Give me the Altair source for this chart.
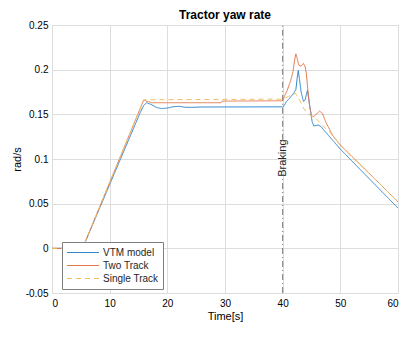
import altair as alt
import pandas as pd

series_names = ["VTM model", "Two Track", "Single Track"]
series_colors = ["#2F86CC", "#E5784A", "#F0C060"]

vtm_t = [0, 5.3, 15.3, 15.9, 16.4, 17.2, 18.2, 19.0, 20.0, 21.0, 22.0, 23.0, 24.0, 26.0, 40.0,
         40.3, 40.6, 41.2, 41.9, 42.3, 42.5, 42.7, 42.9, 43.2, 43.6, 43.9, 44.1, 44.3, 44.5,
         44.8, 45.1, 45.4, 45.8, 46.2, 46.7, 47.0, 48.0, 50.0, 55.0, 60.0]
vtm_v = [0, 0, 0.152, 0.160, 0.163, 0.161, 0.1575, 0.1565, 0.157, 0.1585, 0.159, 0.158, 0.1578, 0.1582, 0.1584,
         0.160, 0.164, 0.168, 0.1736, 0.178, 0.190, 0.199, 0.190, 0.175, 0.1645, 0.166, 0.172, 0.177, 0.168,
         0.155, 0.142, 0.137, 0.1375, 0.138, 0.136, 0.1335, 0.126, 0.111, 0.078, 0.045]

two_t = [0, 5.3, 15.9, 16.5, 17.3, 29.3, 29.5, 40.0, 40.3, 40.8, 41.4, 41.8, 42.1, 42.3, 42.5, 42.8,
         43.2, 43.6, 43.9, 44.1, 44.4, 44.7, 45.0, 45.3, 45.8, 46.4, 46.9, 47.5, 48.7, 50.0, 55.0, 60.0]
two_v = [0, 0, 0.166, 0.1645, 0.163, 0.163, 0.1648, 0.1652, 0.170, 0.177, 0.188, 0.198, 0.212, 0.2177, 0.213, 0.205,
         0.204, 0.207, 0.203, 0.196, 0.175, 0.158, 0.149, 0.147, 0.150, 0.1536, 0.151, 0.141, 0.126, 0.1156, 0.084, 0.052]

single_t = [0, 5.3, 15.9, 40.0, 41.0, 42.2, 43.0, 43.6, 44.5, 45.9, 47.0, 48.2, 50.0, 55.0, 60.0]
single_v = [0, 0, 0.1663, 0.167, 0.170, 0.1736, 0.165, 0.157, 0.150, 0.1446, 0.137, 0.130, 0.1156, 0.084, 0.052]

x_ticks = [0, 10, 20, 30, 40, 50, 60]
y_ticks = [-0.05, 0, 0.05, 0.1, 0.15, 0.2, 0.25]

braking_t = 40
braking_label = "Braking"

rows = []
for name, ts, vs in [(series_names[0], vtm_t, vtm_v),
                     (series_names[1], two_t, two_v),
                     (series_names[2], single_t, single_v)]:
    for t, v in zip(ts, vs):
        rows.append({"t": t, "v": v, "series": name})
df = pd.DataFrame(rows)

font = "Liberation Sans"

xs = alt.Scale(domain=[0, 60], nice=False, zero=False)
ys = alt.Scale(domain=[-0.05, 0.25], nice=False, zero=False)

x_axis = alt.Axis(values=x_ticks, title="Time[s]", grid=True, ticks=False, domain=False,
                  labelPadding=5, titlePadding=2, format="d",
                  titleFontWeight="normal", titleFontSize=11, titleFont=font)
y_axis = alt.Axis(values=y_ticks, title="rad/s", grid=True, ticks=False, domain=False,
                  labelPadding=4, titlePadding=3,
                  titleFontWeight="normal", titleFontSize=11, titleFont=font,
                  labelExpr="replace(format(datum.value, '.2~f'), '\u2212', '-')")

leg = alt.Legend(title=None, orient="none", legendX=10, legendY=217, direction="vertical",
                 symbolType="stroke", symbolSize=1024, symbolStrokeWidth=1.2, clipHeight=13,
                 labelFontSize=10, labelFont=font, labelColor="#262626",
                 strokeColor="#7f7f7f", fillColor="white", padding=4, rowPadding=0,
                 labelOffset=3, cornerRadius=0)

lines = alt.Chart(df).mark_line(strokeWidth=1, clip=True).encode(
    x=alt.X("t:Q", scale=xs, axis=x_axis),
    y=alt.Y("v:Q", scale=ys, axis=y_axis),
    color=alt.Color("series:N", scale=alt.Scale(domain=series_names, range=series_colors), legend=leg),
    strokeDash=alt.StrokeDash("series:N", scale=alt.Scale(domain=series_names, range=[[1, 0], [1, 0], [5, 4]]), legend=leg),
)

rule_df = pd.DataFrame({"t": [braking_t, braking_t], "y1": [-0.05, 0.1215], "y2": [0.0805, 0.25]})
rule = alt.Chart(rule_df).mark_rule(color="#555555", strokeWidth=0.8, strokeDash=[6, 3, 1, 3]).encode(
    x=alt.X("t:Q", scale=xs), y=alt.Y("y1:Q", scale=ys), y2="y2:Q"
)

text_df = pd.DataFrame({"t": [braking_t], "y": [0.101], "label": [braking_label]})
text = alt.Chart(text_df).mark_text(angle=270, fontSize=11, font=font, color="#262626",
                                    align="center", baseline="middle").encode(
    x=alt.X("t:Q", scale=xs), y=alt.Y("y:Q", scale=ys), text="label:N"
)

chart = alt.layer(rule, lines, text).properties(
    width=346, height=268,
    title=alt.TitleParams("Tractor yaw rate", fontSize=12, fontWeight="bold", font=font,
                          color="#000000", anchor="middle", offset=-2),
    autosize=alt.AutoSizeParams(type="none"),
    padding={"left": 44, "top": 17, "right": 6, "bottom": 30},
).configure_view(stroke="#808080", strokeWidth=1).configure_axis(
    labelFont=font, labelFontSize=11, labelColor="#404040",
    titleColor="#262626",
    gridColor="#e6e6e6", gridWidth=1
).configure(background="white")

chart.save("out.html", embed_options={"renderer": "svg", "actions": False})
